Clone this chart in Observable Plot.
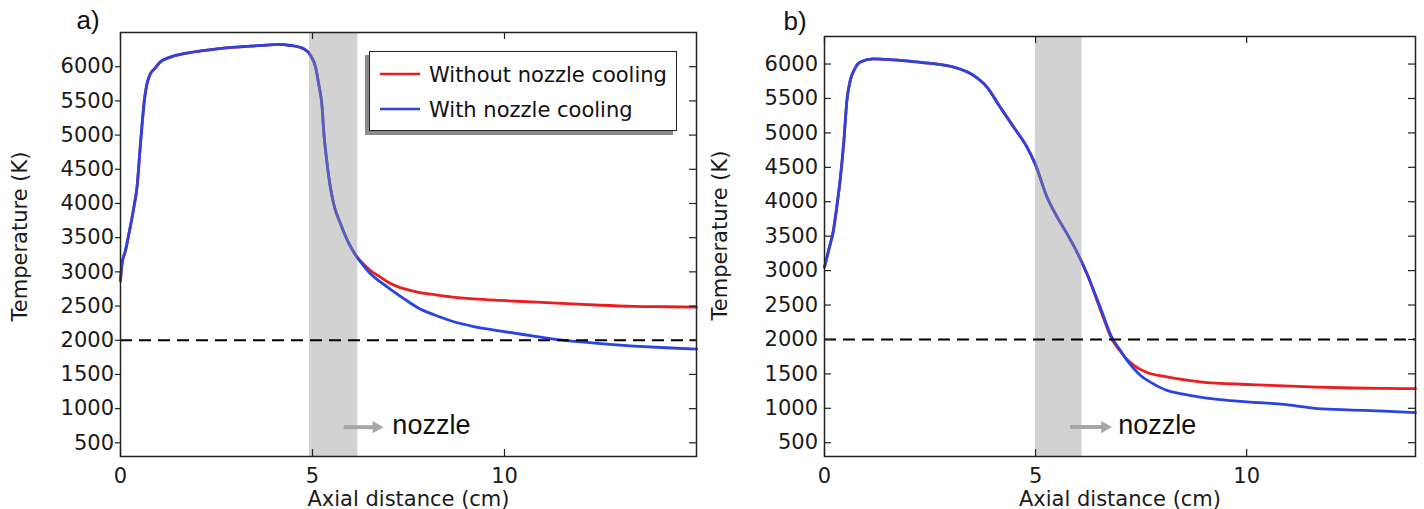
<!DOCTYPE html>
<html><head><meta charset="utf-8">
<script src="https://cdn.jsdelivr.net/npm/d3@7"></script>
<script src="https://cdn.jsdelivr.net/npm/@observablehq/plot@0.6"></script>
<style>
body{margin:0;background:#fff;}
#wrap{position:relative;width:1424px;height:509px;overflow:hidden;background:#fff;}
.pl{position:absolute;top:0;}
#legend{position:absolute;left:369px;top:51px;width:306px;height:78px;border:1.5px solid #222;background:#fff;box-shadow:-4px 4px 0 #8a8a8a;}
</style></head>
<body>
<div id="wrap">
  <div id="pa" class="pl" style="left:0px"></div>
  <div id="pb" class="pl" style="left:710px"></div>
  <div id="legend"></div>
</div>
<script>
const RED = "#ee1c1c", BLUE = "#2a44e4";
const seriesNames = ["Without nozzle cooling", "With nozzle cooling"];
const xTicksA = [0, 5, 10];
const xTicksB = [0, 5, 10];
const yTicks = [500, 1000, 1500, 2000, 2500, 3000, 3500, 4000, 4500, 5000, 5500, 6000];
const limitT = 2000;

// Panel a) — shared part (both curves coincide)
const aSharedX = [0, 0.04, 0.13, 0.22, 0.35, 0.43, 0.52, 0.63, 0.69, 0.78, 0.87, 1.04, 1.3, 1.65, 2.1, 2.52, 3.0, 3.39, 3.8, 4.08, 4.43, 4.77, 4.95, 5.08, 5.16, 5.25, 5.29, 5.36, 5.45, 5.55, 5.73, 5.95, 6.16];
const aSharedT = [2870, 3120, 3310, 3560, 3950, 4240, 4870, 5550, 5750, 5900, 5960, 6070, 6140, 6190, 6230, 6260, 6285, 6300, 6315, 6325, 6310, 6262, 6164, 5993, 5750, 5408, 5067, 4677, 4288, 3996, 3703, 3411, 3215];
const aRedX = [6.3, 6.51, 6.75, 7.03, 7.4, 7.73, 8.2, 8.6, 9.2, 9.9, 10.7, 11.63, 12.5, 13.37, 14.2, 15];
const aRedT = [3130, 3020, 2930, 2830, 2750, 2705, 2665, 2635, 2605, 2582, 2560, 2535, 2512, 2496, 2490, 2485];
const aBlueX = [6.3, 6.51, 6.75, 7.03, 7.4, 7.73, 8.2, 8.6, 9.2, 9.9, 10.3, 10.76, 11.2, 11.63, 12.0, 12.5, 13.37, 14.2, 15];
const aBlueT = [3110, 2972, 2860, 2745, 2600, 2480, 2365, 2285, 2200, 2135, 2100, 2060, 2025, 1995, 1975, 1950, 1915, 1890, 1870];
const aBand = [4.92, 6.18];

// Panel b)
const bSharedX = [0, 0.1, 0.21, 0.29, 0.37, 0.46, 0.53, 0.61, 0.7, 0.85, 1.16, 1.64, 2.19, 2.58, 3.06, 3.53, 3.85, 4.16, 4.48, 4.8, 4.99, 5.27, 5.51, 5.74, 5.98, 6.22];
const bSharedT = [3050, 3300, 3580, 3920, 4310, 4890, 5470, 5760, 5910, 6030, 6075, 6060, 6030, 6005, 5955, 5835, 5665, 5375, 5085, 4790, 4550, 4070, 3780, 3540, 3270, 2950];
const bRedX = [6.53, 6.81, 7.01, 7.15, 7.33, 7.6, 8.11, 8.9, 10.09, 10.88, 11.67, 12.5, 13.25, 14];
const bRedT = [2440, 2000, 1825, 1720, 1625, 1530, 1455, 1385, 1345, 1325, 1308, 1295, 1288, 1285];
const bBlueX = [6.53, 6.81, 7.01, 7.15, 7.33, 7.5, 7.72, 8.11, 8.5, 8.9, 9.5, 10.09, 10.88, 11.3, 11.67, 12.5, 13.25, 14];
const bBlueT = [2470, 2025, 1840, 1710, 1575, 1470, 1380, 1260, 1205, 1163, 1120, 1090, 1057, 1025, 995, 975, 959, 936];
const bBand = [5.0, 6.1];

// "nozzle" annotation (arrow start/end, text position) in data units
const aArrow = {x1: 5.81, x2: 6.59, head: 6.66, t: 729, textX: 7.08, textT: 750};
const bArrow = {x1: 5.82, x2: 6.58, head: 6.64, t: 727, textX: 6.96, textT: 746};

function rows(xs, ts) { return xs.map((x, i) => ({x, t: ts[i]})); }

function panel(o) {
  const plotW = o.width - o.ml - o.mr, plotH = o.height - o.mt - o.mb;
  const red = rows(o.sharedX.concat(o.redX), o.sharedT.concat(o.redT));
  const blue = rows(o.sharedX.concat(o.blueX), o.sharedT.concat(o.blueT));
  return Plot.plot({
    width: o.width, height: o.height,
    marginLeft: o.ml, marginRight: o.mr, marginTop: o.mt, marginBottom: o.mb,
    x: {domain: o.xDomain},
    y: {domain: o.yDomain},
    style: {fontFamily: "DejaVu Sans", fontSize: "21px", color: "#1a1a1a", background: "transparent", overflow: "visible"},
    marks: [
      Plot.line(red, {x: "x", y: "t", stroke: RED, strokeWidth: 2.8, curve: "monotone-x"}),
      Plot.line(blue, {x: "x", y: "t", stroke: BLUE, strokeWidth: 2.8, curve: "monotone-x"}),
      Plot.rect([{x1: o.band[0], x2: o.band[1]}], {x1: "x1", x2: "x2", fill: "#8f8f8f", fillOpacity: 0.4}),
      Plot.ruleY([limitT], {stroke: "#000", strokeWidth: 2, strokeDasharray: "12,7"}),
      Plot.link([o.arrow], {x1: "x1", x2: "x2", y1: "t", y2: "t", stroke: "#a6a6a6", strokeWidth: 4}),
      Plot.dot([o.arrow], {x: "head", y: "t", symbol: "triangle", rotate: 90, r: 4.6, fill: "#a6a6a6", stroke: null}),
      Plot.text([o.arrow], {x: "textX", y: "textT", text: () => "nozzle", textAnchor: "start", fontFamily: "Liberation Sans", fontSize: 27, fill: "#111"}),
      Plot.frame({stroke: "#222", strokeWidth: 1.5}),
      Plot.tickX(o.xTicks, {x: d => d, insetTop: plotH - 7, stroke: "#222", strokeWidth: 1.2}),
      Plot.tickX(o.xTicks, {x: d => d, insetBottom: plotH - 7, stroke: "#222", strokeWidth: 1.2}),
      Plot.tickY(yTicks, {y: d => d, insetLeft: o.leftTickIn ? 0 : -5, insetRight: o.leftTickIn ? plotW - 7 : plotW, stroke: "#222", strokeWidth: 1.2}),
      Plot.tickY(yTicks, {y: d => d, insetLeft: plotW - 7, stroke: "#222", strokeWidth: 1.2}),
      Plot.axisX({ticks: o.xTicks, tickSize: 0, tickPadding: 12, label: null, tickFormat: d => String(d)}),
      Plot.axisY({ticks: yTicks, tickSize: 0, tickPadding: 6.5, label: null, tickFormat: d => String(d)}),
      Plot.text(["Axial distance (cm)"], {frameAnchor: "bottom", textAnchor: "middle", lineAnchor: "bottom", dy: 49, fontSize: 21}),
      Plot.text(["Temperature (K)"], {frameAnchor: "left", textAnchor: "middle", lineAnchor: "middle", rotate: -90, dx: o.ylabDx, dy: o.ylabDy, fontSize: 21}),
      Plot.text([o.tag], {frameAnchor: "top-left", textAnchor: "start", lineAnchor: "bottom", dx: o.tagDx, dy: o.tagDy, fontFamily: "Liberation Sans", fontSize: 26, fill: "#111"})
    ]
  });
}

document.getElementById("pa").append(panel({
  width: 710, height: 509, ml: 120, mr: 14, mt: 32, mb: 53,
  xDomain: [0, 15], yDomain: [300, 6500], xTicks: xTicksA,
  sharedX: aSharedX, sharedT: aSharedT, redX: aRedX, redT: aRedT, blueX: aBlueX, blueT: aBlueT,
  band: aBand, arrow: aArrow, leftTickIn: false, ylabDx: -100, ylabDy: -8,
  tag: "a)", tagDx: -44, tagDy: -4
}));
document.getElementById("pb").append(panel({
  width: 714, height: 509, ml: 114, mr: 9, mt: 36, mb: 53,
  xDomain: [0, 14], yDomain: [300, 6400], xTicks: xTicksB,
  sharedX: bSharedX, sharedT: bSharedT, redX: bRedX, redT: bRedT, blueX: bBlueX, blueT: bBlueT,
  band: bBand, arrow: bArrow, leftTickIn: true, ylabDx: -104, ylabDy: -11,
  tag: "b)", tagDx: -41, tagDy: -7
}));

// Legend (panel a)
const lg = d3.select("#legend").append("svg").attr("width", 306).attr("height", 78);
[RED, BLUE].forEach((c, i) => {
  const cy = 22 + i * 35;
  lg.append("line").attr("x1", 10).attr("x2", 50).attr("y1", cy).attr("y2", cy).attr("stroke", c).attr("stroke-width", 2.5);
  lg.append("text").attr("x", 59).attr("y", cy).attr("dy", "0.36em")
    .attr("font-family", "DejaVu Sans").attr("font-size", 21).attr("fill", "#111").text(seriesNames[i]);
});
</script>
</body></html>
